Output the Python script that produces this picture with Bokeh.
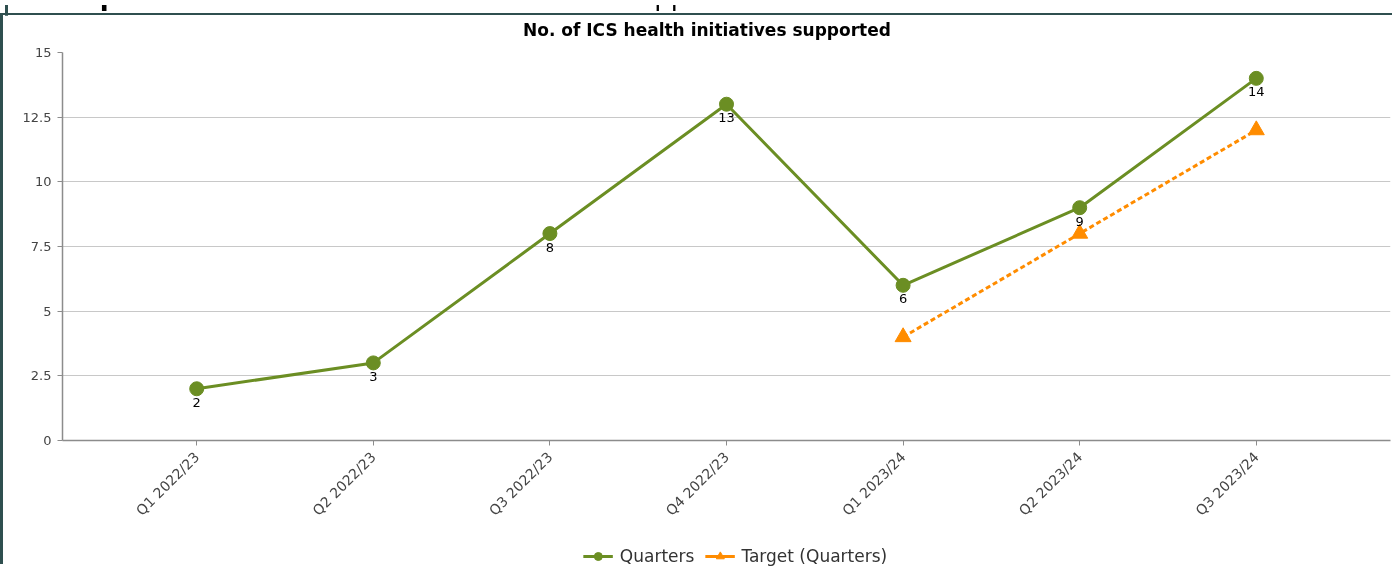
import math
from bokeh.plotting import figure
from bokeh.models import (Range1d, FixedTicker, NumeralTickFormatter, Legend, LegendItem,
                          ColumnDataSource, Div)
from bokeh.layouts import column
from bokeh.core.properties import value
from bokeh.embed import file_html
from bokeh.resources import INLINE

# ---- data ----
quarters = ["Q1 2022/23", "Q2 2022/23", "Q3 2022/23", "Q4 2022/23",
            "Q1 2023/24", "Q2 2023/24", "Q3 2023/24"]
actual = [2, 3, 8, 13, 6, 9, 14]
target = [float("nan"), float("nan"), float("nan"), float("nan"), 4, 8, 12]
y_ticks = [0, 2.5, 5, 7.5, 10, 12.5, 15]
series_names = ["Quarters", "Target (Quarters)"]

title_text = "No. of ICS health initiatives supported"
header_bold = "Description"
header_rest = " - Number of ICS health initiatives supported"

GREEN = "#6B8E23"
ORANGE = "#FF8C00"
TEAL = "#2F4F4F"
FONT = "DejaVu Sans"

xs = list(range(len(quarters)))
src = ColumnDataSource(dict(x=xs, actual=actual, target=target,
                            lab=[str(v) for v in actual]))

p = figure(width=1392, height=551, output_backend="svg", toolbar_location=None,
           x_range=Range1d(-0.76, len(quarters) - 1 + 0.76),
           y_range=Range1d(0, 15),
           min_border_left=59, min_border_right=5, min_border_top=37, min_border_bottom=126,
           styles={"position": "fixed", "left": "0px", "top": "13px",
                   "border-left": f"3px solid {TEAL}", "border-top": f"2px solid {TEAL}"})
p.outline_line_color = None
p.background_fill_color = "white"
p.border_fill_color = "white"

# axes
p.xaxis.ticker = FixedTicker(ticks=xs)
p.xaxis.major_label_overrides = {i: q for i, q in enumerate(quarters)}
p.xaxis.major_label_orientation = math.pi / 4
p.yaxis.ticker = FixedTicker(ticks=y_ticks)
p.yaxis.formatter = NumeralTickFormatter(format="0.[0]")
for ax in (p.xaxis, p.yaxis):
    ax.axis_line_color = "#8c8c8c"
    ax.axis_line_width = 1.5
    ax.major_tick_line_color = "#8c8c8c"
    ax.major_tick_line_width = 1
    ax.major_tick_out = 5
    ax.major_tick_in = 0
    ax.minor_tick_line_color = None
    ax.major_label_text_font = FONT
    ax.major_label_text_font_size = "13px"
    ax.major_label_text_color = "#444444"
p.xaxis.major_label_text_font_size = "14px"
p.yaxis.major_label_standoff = 6
p.xaxis.major_label_standoff = 9

p.xgrid.grid_line_color = None
p.ygrid.grid_line_color = "#c8c8c8"
p.ygrid.grid_line_width = 1

# series
p.line("x", "actual", source=src, line_color=GREEN, line_width=3)
p.scatter("x", "actual", source=src, marker="circle", size=14,
          fill_color=GREEN, line_color=GREEN)
p.line("x", "target", source=src, line_color=ORANGE, line_width=3, line_dash="5 3")
p.scatter("x", "target", source=src, marker="triangle", size=16,
          fill_color=ORANGE, line_color=ORANGE)

p.text("x", "actual", text="lab", source=src, text_align="center", text_baseline="top",
       y_offset=9, text_font=value(FONT), text_font_size="13px", text_color="black")

# ---- legend strip (separate small plot whose ranges keep its series out of view) ----
lf = figure(width=600, height=24, output_backend="svg", toolbar_location=None,
            x_axis_location=None, y_axis_location=None,
            min_border=0, min_border_left=0, min_border_right=0,
            min_border_top=0, min_border_bottom=0,
            x_range=Range1d(0, 1), y_range=Range1d(-2, -1),
            styles={"position": "fixed", "left": "408px", "top": "544px"})
lf.outline_line_color = None
lf.grid.grid_line_color = None
lf.background_fill_alpha = 0
lf.border_fill_alpha = 0
lg_line = lf.line("x", "actual", source=src, line_color=GREEN, line_width=3)
lg_pt = lf.scatter("x", "actual", source=src, marker="circle", size=13,
                   fill_color=GREEN, line_color=GREEN)
lo_line = lf.line("x", "target", source=src, line_color=ORANGE, line_width=3)
lo_pt = lf.scatter("x", "target", source=src, marker="triangle", size=15,
                   fill_color=ORANGE, line_color=ORANGE)
legend = Legend(items=[LegendItem(label=series_names[0], renderers=[lg_line, lg_pt], index=0),
                       LegendItem(label=series_names[1], renderers=[lo_line, lo_pt], index=4)],
                orientation="horizontal", location="center",
                border_line_color=None, background_fill_alpha=0,
                label_text_font=FONT, label_text_font_size="17px", label_text_color="#333333",
                glyph_width=30, glyph_height=20, label_height=20, spacing=10,
                padding=0, margin=0, label_standoff=7)
lf.add_layout(legend, "center")

# ---- texts above the plot ----
header = Div(text=(f"<div style='position:absolute;left:0px;top:-22px;white-space:nowrap;"
                   f"font-family:{FONT};font-size:26px;line-height:26px;color:black'>"
                   f"<b>{header_bold}</b>{header_rest}</div>"),
             width=1392, height=13,
             styles={"position": "fixed", "left": "0px", "top": "0px", "overflow": "hidden",
                     "border-left": f"3px solid {TEAL}"})

title = Div(text=(f"<div style='white-space:nowrap;font-family:{FONT};font-size:17px;"
                  f"font-weight:bold;line-height:20px;color:black'>{title_text}</div>"),
            width=420, height=22,
            styles={"position": "fixed", "left": "518px", "top": "15px"})

layout = column(header, p, lf, title)
open("out.html", "w").write(file_html(layout, INLINE))
